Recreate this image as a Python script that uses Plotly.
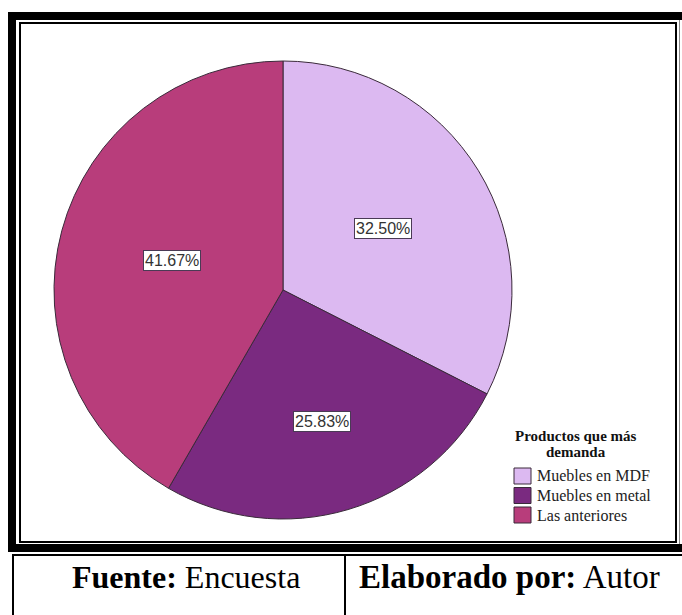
import math
import plotly.graph_objects as go

# Survey results: "Productos que más demanda"
categories = ["Muebles en MDF", "Muebles en metal", "Las anteriores"]
counts = [39, 31, 50]
slice_colors = ["#DCB9F1", "#7A2A80", "#B83D7B"]
legend_title = ["Productos que más", "demanda"]
source_text = "<b>Fuente:</b> Encuesta"
author_text = "<b>Elaborado por:</b> Autor"

W, H = 682, 615


def px(x):
    return x / W


def py(y):
    return 1 - y / H


# pie geometry in pixels
cx, cy, r = 283, 290, 229
total = sum(counts)
percents = [c / total * 100 for c in counts]

fig = go.Figure()
fig.add_trace(go.Pie(
    labels=categories,
    values=counts,
    sort=False,
    direction="clockwise",
    rotation=0,
    marker=dict(colors=slice_colors, line=dict(color="#3a2a3a", width=1)),
    textinfo="none",
    hoverinfo="label+percent",
    showlegend=False,
    domain=dict(x=[px(cx - r), px(cx + r)], y=[py(cy + r), py(cy - r)]),
))

# percentage labels, boxed, placed at each slice's mid-angle
cum = 0
label_r = [0.51, 0.60, 0.50]
for pct, fr in zip(percents, label_r):
    mid = (cum + pct / 2) / 100 * 2 * math.pi
    cum += pct
    lx = cx + fr * r * math.sin(mid)
    ly = cy - fr * r * math.cos(mid)
    fig.add_annotation(
        x=px(lx), y=py(ly), xref="paper", yref="paper",
        xanchor="center", yanchor="middle",
        text=f"{pct:.2f}%", showarrow=False,
        font=dict(family="Liberation Sans, Arial", size=16, color="#333333"),
        bgcolor="white", bordercolor="#4a3a55", borderwidth=1, borderpad=1,
    )

shapes = []
# double frame around the chart
shapes.append(dict(type="rect", xref="paper", yref="paper",
                   x0=px(12), x1=px(692), y0=py(548), y1=py(16),
                   line=dict(color="black", width=8)))
shapes.append(dict(type="rect", xref="paper", yref="paper",
                   x0=px(20), x1=px(676), y0=py(542), y1=py(23),
                   line=dict(color="black", width=2)))
shapes.append(dict(type="line", xref="paper", yref="paper",
                   x0=px(679.5), x1=px(679.5), y0=py(544), y1=py(20),
                   line=dict(color="#888888", width=1)))

# legend: title, swatches and category names
serif = "Liberation Serif, Times New Roman"
fig.add_annotation(x=px(576), y=py(436), xref="paper", yref="paper",
                   xanchor="center", yanchor="middle", showarrow=False,
                   text=f"<b>{legend_title[0]}</b>",
                   font=dict(family=serif, size=15, color="#111111"))
fig.add_annotation(x=px(576), y=py(452), xref="paper", yref="paper",
                   xanchor="center", yanchor="middle", showarrow=False,
                   text=f"<b>{legend_title[1]}</b>",
                   font=dict(family=serif, size=15, color="#111111"))
for i, (name, col) in enumerate(zip(categories, slice_colors)):
    top = 468 + i * 19.5
    shapes.append(dict(type="rect", xref="paper", yref="paper",
                       x0=px(514), x1=px(531), y0=py(top + 16), y1=py(top),
                       fillcolor=col, line=dict(color="#3a2a3a", width=1)))
    fig.add_annotation(x=px(535), y=py(top + 8), xref="paper", yref="paper",
                       xanchor="left", yanchor="middle", showarrow=False,
                       text=name, font=dict(family=serif, size=16, color="#222222"))

# source table below
shapes.append(dict(type="line", xref="paper", yref="paper",
                   x0=px(12), x1=px(690), y0=py(555), y1=py(555),
                   line=dict(color="black", width=2)))
shapes.append(dict(type="line", xref="paper", yref="paper",
                   x0=px(13), x1=px(13), y0=py(554), y1=py(620),
                   line=dict(color="black", width=2)))
shapes.append(dict(type="line", xref="paper", yref="paper",
                   x0=px(345), x1=px(345), y0=py(554), y1=py(620),
                   line=dict(color="black", width=2)))

fig.add_annotation(x=px(186), y=py(577), xref="paper", yref="paper",
                   xanchor="center", yanchor="middle",
                   text=source_text, showarrow=False,
                   font=dict(family=serif, size=32, color="black"))
fig.add_annotation(x=px(357), y=py(577), xref="paper", yref="paper",
                   xanchor="left", yanchor="middle",
                   text=author_text, showarrow=False,
                   font=dict(family=serif, size=33, color="black"))

fig.update_layout(
    width=W, height=H,
    margin=dict(l=0, r=0, t=0, b=0),
    paper_bgcolor="white",
    plot_bgcolor="white",
    shapes=shapes,
    showlegend=False,
)

fig.write_html("out.html")
